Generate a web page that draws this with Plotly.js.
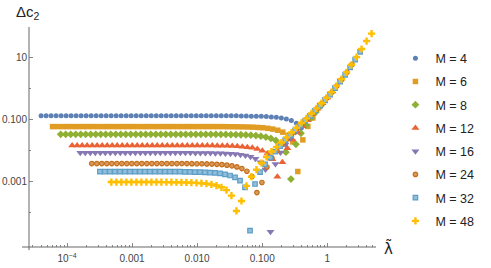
<!DOCTYPE html>
<html><head><meta charset="utf-8">
<script src="https://cdn.plot.ly/plotly-3.0.1.min.js"></script>
<style>html,body{margin:0;padding:0;background:#fff}#chart{width:491px;height:268px}</style>
</head><body><div id="chart"></div>
<script>
// base coupling grid (lambda); lambda-tilde = M * lambda
const lam = [1.0e-5, 1.194e-5, 1.425e-5, 1.701e-5, 2.031e-5, 2.424e-5, 2.894e-5, 3.455e-5, 4.125e-5, 4.924e-5, 5.878e-5, 7.017e-5, 8.377e-5,
 1.0e-4, 1.194e-4, 1.425e-4, 1.701e-4, 2.031e-4, 2.424e-4, 2.894e-4, 3.455e-4, 4.125e-4, 4.924e-4, 5.878e-4, 7.017e-4, 8.377e-4,
 1.0e-3, 1.194e-3, 1.425e-3, 1.701e-3, 2.031e-3, 2.424e-3, 2.894e-3, 3.455e-3, 4.125e-3, 4.924e-3, 5.878e-3, 7.017e-3, 8.377e-3,
 1.0e-2, 1.194e-2, 1.425e-2, 1.701e-2, 2.031e-2, 2.424e-2, 2.894e-2, 3.455e-2, 4.125e-2, 4.924e-2, 5.878e-2, 7.017e-2, 8.377e-2,
 0.1];
const Mvals = [4, 6, 8, 12, 16, 24, 32, 48];
const names = ['M = 4', 'M = 6', 'M = 8', 'M = 12', 'M = 16', 'M = 24', 'M = 32', 'M = 48'];

const dcM4 = [0.131,0.131,0.131,0.131,0.131,0.131,0.131,0.131,0.131,0.131,
 0.131,0.131,0.131,0.131,0.131,0.131,0.131,0.131,0.131,0.131,
 0.131,0.131,0.131,0.131,0.131,0.131,0.131,0.131,0.131,0.131,
 0.131,0.131,0.131,0.131,0.131,0.131,0.131,0.131,0.131,0.131,
 0.130,0.129,0.1285,0.1277,0.1263,0.1242,0.1214,0.1174,0.1117,0.1037,
 0.0925,0.0764,0.0535];
const dcM6 = [0.059,0.059,0.059,0.059,0.059,0.059,0.059,0.059,0.059,0.059,
 0.059,0.059,0.059,0.059,0.059,0.059,0.059,0.059,0.059,0.059,
 0.059,0.059,0.059,0.059,0.059,0.059,0.059,0.059,0.059,0.059,
 0.059,0.059,0.059,0.059,0.059,
 0.0586,0.0584,0.0581,0.0578,0.0573,0.0566,0.0555,0.0541,0.052,0.0491,
 0.045,0.0391,0.0308,0.0189,0.0021,0.022,0.06,0.112];
const dcM8 = [0.0333,0.0333,0.0333,0.0333,0.0333,0.0333,0.0333,0.0333,0.0333,0.0333,
 0.0333,0.0333,0.0333,0.0333,0.0333,0.0333,0.0333,0.0333,0.0333,0.0333,
 0.0333,0.0333,0.0333,0.0333,0.0333,0.0333,0.0333,0.0333,0.0333,0.0333,
 0.0333,0.0333,
 0.0331,0.0329,0.0327,0.0325,0.0322,0.0317,0.0311,0.0302,0.0289,0.0271,
 0.0246,0.021,0.0159,0.0088,0.0012,0.0158,0.036,0.066,0.11,0.176,0.278];
const dcM12 = [0.0145,0.0145,0.0145,0.0145,0.0145,0.0145,0.0145,0.0145,0.0145,0.0145,
 0.0145,0.0145,0.0145,0.0145,0.0145,0.0145,0.0145,0.0145,0.0145,0.0145,
 0.0145,0.0145,0.0145,0.0145,0.0145,0.0145,0.0145,0.0145,
 0.0144,0.0143,0.0142,0.0141,0.0139,0.01366,0.01332,0.01284,0.01216,0.0112,
 0.00984,0.00793,0.00523,0.00143,0.0042,0.0119,0.0227,0.038,0.061,0.095,
 0.148,0.222,0.337,0.515,0.80];
const dcM16 = [0.0084,0.0084,0.0084,0.0084,0.0084,0.0084,0.0084,0.0084,0.0084,0.0084,
 0.0084,0.0084,0.0084,0.0084,0.0084,0.0084,0.0084,0.0084,0.0084,0.0084,
 0.0084,0.0084,0.0084,
 0.00835,0.00833,0.0083,0.00826,0.00821,0.00813,0.00802,0.00786,0.00764,0.00733,
 0.0069,0.00628,0.00541,0.00418,0.00244,0.000024,0.00367,0.00862,0.0156,0.0254,
 0.0393,0.061,0.090,0.134,0.200,0.298,0.450,0.69,1.10,1.80];
const dcM24 = [0.0038,0.0038,0.0038,0.0038,0.0038,0.0038,0.0038,0.0038,0.0038,0.0038,
 0.0038,0.0038,0.0038,0.0038,0.0038,0.0038,0.0038,0.0038,
 0.00379,0.00378,0.00376,0.00374,0.00372,0.00369,0.00365,0.00358,0.0035,0.00337,
 0.0032,0.00296,0.00262,0.00214,0.00145,0.00044,0.00093,0.00293,0.00578,0.00978,
 0.0154,0.0233,0.0345,0.0505,0.0733,0.105,0.153,0.224,0.331,0.495,
 0.76,1.22,2.0,3.36,5.9];
const dcM32 = [0.00207,0.00207,0.00207,0.00207,0.00207,0.00207,0.00207,0.00207,0.00207,0.00207,
 0.00207,0.00207,0.00207,0.00207,0.00207,0.00207,0.00207,
 0.00205,0.00204,0.00202,0.00201,0.00198,0.00194,0.00189,0.00182,0.00171,0.00156,
 0.00136,0.00106,0.00065,0.000026,0.00083,0.002,0.00355,0.00586,0.00911,0.0137,
 0.0212,0.0308,0.0445,0.064,0.091,0.131,0.191,0.28,0.415,0.628,
 1.02,1.67,2.77,4.78,8.5,15.3];
const dcM48 = [0.00096,0.00096,0.00096,0.00096,0.00096,0.00096,0.00096,0.00096,0.00096,0.00096,
 0.000955,0.000953,0.00095,0.000945,0.000939,0.000931,0.000919,0.000903,0.00088,0.000848,
 0.000803,0.000739,0.00065,0.000525,0.00035,0.000112,0.000235,0.00072,0.00143,0.0024,
 0.00395,0.0062,0.0093,0.013,0.0181,0.0266,0.0379,0.0542,0.0773,0.109,
 0.157,0.229,0.336,0.501,0.762,1.22,2.0,3.33,5.82,10.4,
 18.8,33.9,58.9];

const xTickVals = [1e-4, 1e-3, 1e-2, 0.1, 1];
const xTickText = ['10<sup>\u22124</sup>', '0.001', '0.010', '0.100', '1'];
const xMinorVals = [3e-5,4e-5,5e-5,6e-5,7e-5,8e-5,9e-5, 2e-4,3e-4,4e-4,5e-4,6e-4,7e-4,8e-4,9e-4,
 2e-3,3e-3,4e-3,5e-3,6e-3,7e-3,8e-3,9e-3, 0.02,0.03,0.04,0.05,0.06,0.07,0.08,0.09,
 0.2,0.3,0.4,0.5,0.6,0.7,0.8,0.9, 2,3,4,5];
const yTickVals = [10, 0.1, 0.001];
const yTickText = ['10', '0.100', '0.001'];
const yMinorVals = [1, 0.01, 1e-4];

const series = [dcM4, dcM6, dcM8, dcM12, dcM16, dcM24, dcM32, dcM48];
const colors = ['#5E81B5', '#E19C24', '#8FB032', '#EB6235', '#8778B3', '#C56E1A', '#5D9EC7', '#FFBF00'];
const fills  = ['#5E81B5', '#E19C24', '#8FB032', '#EB6235', '#8778B3', '#D99A5E', '#92BFDC', '#FFBF00'];
const symbols = ['circle', 'square', 'diamond', 'triangle-up', 'triangle-down', 'circle', 'square', 'cross'];
const sizes = [5, 5.5, 6, 7, 7, 4.5, 4.5, 6];
const lineW = [0, 0, 0, 0, 0, 1.2, 1.2, 0];

const traces = series.map((ys, i) => ({
  type: 'scatter', mode: 'markers', name: names[i],
  x: lam.map(v => v * Mvals[i]), y: ys,
  legendgroup: 'g' + i,
  marker: {symbol: symbols[i], size: sizes[i], color: fills[i], line: {width: lineW[i], color: colors[i]}}
}));

const axCol = '#666';
const layout = {
  width: 491, height: 268,
  margin: {l: 29, r: 106, t: 27, b: 21, pad: 0},
  paper_bgcolor: '#fff', plot_bgcolor: '#fff',
  font: {family: 'Liberation Sans, Arial, sans-serif', size: 10, color: '#444'},
  xaxis: {type: 'log', range: [-4.584, 0.749], tickmode: 'array', tickvals: xTickVals, ticktext: xTickText,
    ticks: 'inside', ticklen: 4, tickwidth: 1, tickcolor: '#888', showline: false, showgrid: false, zeroline: false,
    ticklabelstandoff: 4, tickfont: {size: 10, color: '#444'},
    minor: {tickmode: 'array', tickvals: xMinorVals, ticks: 'inside', ticklen: 2, tickwidth: 1, tickcolor: '#888', showgrid: false}},
  yaxis: {type: 'log', range: [-5.113, 1.984], tickmode: 'array', tickvals: yTickVals, ticktext: yTickText,
    ticks: 'inside', ticklen: 4, tickwidth: 1, tickcolor: '#888', showline: false, showgrid: false, zeroline: false,
    ticklabelstandoff: 1, tickfont: {size: 10, color: '#444'},
    minor: {tickmode: 'array', tickvals: yMinorVals, ticks: 'inside', ticklen: 2, tickwidth: 1, tickcolor: '#888', showgrid: false}},
  showlegend: true,
  legend: {x: 1.056, xanchor: 'left', y: 0.925, yanchor: 'top', font: {size: 12.5, color: '#222'},
    tracegroupgap: 4, bgcolor: 'rgba(0,0,0,0)', borderwidth: 0, itemsizing: 'trace'},
  shapes: [
    {type: 'line', xref: 'paper', yref: 'paper', x0: -0.02, x1: 1, y0: 0, y1: 0, line: {color: axCol, width: 1}},
    {type: 'line', xref: 'paper', yref: 'paper', x0: 0, x1: 0, y0: -0.014, y1: 1, line: {color: axCol, width: 1}}
  ],
  annotations: [
    {xref: 'paper', yref: 'paper', x: -0.004, y: 1.064, text: '\u0394c<sub>2</sub>', showarrow: false,
      xanchor: 'center', yanchor: 'middle', font: {size: 15, color: '#222'}},
    {xref: 'paper', yref: 'paper', x: 1.0365, y: -0.005, text: '\u03BB\u0303', showarrow: false,
      xanchor: 'center', yanchor: 'middle', font: {family: 'DejaVu Sans', size: 15, color: '#222'}}
  ]
};

Plotly.newPlot('chart', traces, layout, {displayModeBar: false, staticPlot: true});
</script>
</body></html>
